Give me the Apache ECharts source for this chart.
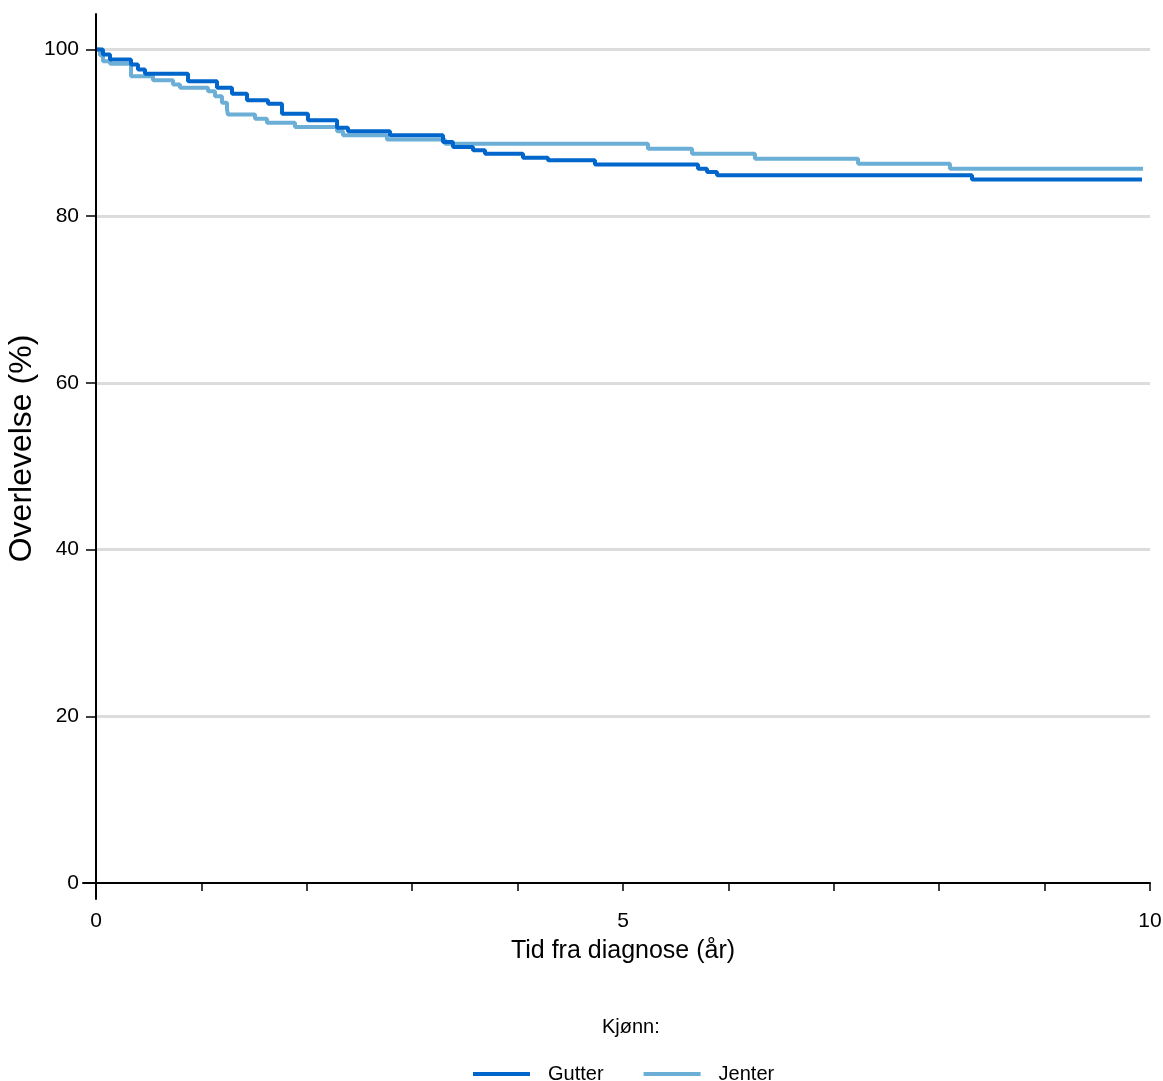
<!DOCTYPE html>
<html>
<head>
<meta charset="utf-8">
<script src="https://cdn.jsdelivr.net/npm/echarts@6/dist/echarts.min.js"></script>
<style>
  html, body { margin: 0; padding: 0; background: #fff; }
  #chart { width: 1163px; height: 1081px; }
</style>
</head>
<body>
<div id="chart"></div>
<script>
// Kaplan-Meier steg: tid (år) og overlevelse (%)
const gutterTid = [0, 0.066, 0.133, 0.332, 0.398, 0.465, 0.873, 1.148, 1.290, 1.433, 1.632, 1.765, 2.011,
  2.287, 2.391, 2.789, 3.292, 3.387, 3.577, 3.691, 4.051, 4.288, 4.734, 5.712, 5.797, 5.892, 8.311, 9.924]
const gutterVerdi = [100, 99.4, 98.8, 98.2, 97.6, 97.1, 96.2, 95.4, 94.7, 93.9, 93.5, 92.3, 91.5,
  90.6, 90.2, 89.7, 88.9, 88.3, 87.9, 87.5, 87.0, 86.7, 86.2, 85.7, 85.3, 84.9, 84.4, 84.4]

const jenterTid = [0, 0.038, 0.066, 0.133, 0.332, 0.541, 0.731, 0.797, 1.063, 1.129, 1.195, 1.243, 1.252,
  1.509, 1.622, 1.888, 2.287, 2.343, 2.761, 3.311, 5.237, 5.655, 6.252, 7.230, 8.102, 9.934]
const jenterVerdi = [100, 99.3, 98.6, 98.3, 96.8, 96.3, 95.8, 95.4, 95.0, 94.4, 93.6, 92.8, 92.2,
  91.7, 91.2, 90.7, 90.2, 89.7, 89.2, 88.7, 88.1, 87.5, 86.9, 86.3, 85.7, 85.7]

const xTicks = [0, 5, 10]
const yTicks = [0, 20, 40, 60, 80, 100]

const font = "'Liberation Sans', Arial, sans-serif"
const black = '#000'

const chart = echarts.init(document.getElementById('chart'))

const toPairs = (tid, verdi) => tid.map((t, i) => [t, verdi[i]])

// bare en aksestrek, ingen merker
const bareStrek = (gridIndex, extra) => Object.assign({
  gridIndex,
  type: 'value',
  min: 0,
  max: 1,
  axisLine: { show: false },
  axisTick: { show: false },
  axisLabel: { show: false },
  splitLine: { show: false }
}, extra)

chart.setOption({
  animation: false,
  title: {
    text: 'Kjønn:',
    left: 597,
    top: 1012,
    textStyle: { fontFamily: font, fontSize: 20, fontWeight: 'normal', color: '#000' }
  },
  legend: {
    left: 468,
    top: 1059,
    itemWidth: 57,
    itemHeight: 4,
    itemGap: 40,
    icon: 'rect',
    textStyle: { fontFamily: font, fontSize: 20, color: '#000', padding: [0, 0, 0, 13] },
    data: ['Gutter', 'Jenter']
  },
  grid: [
    // dataområde
    { left: 96, right: 13, top: 49.5, bottom: 198, outerBoundsMode: 'none', containLabel: false },
    // x-aksestrek, litt forlenget til venstre
    { left: 83, right: 13, top: 14, bottom: 198, outerBoundsMode: 'none', containLabel: false },
    // y-aksestrek, forlenget opp og ned
    { left: 96, right: 13, top: 14, bottom: 182, outerBoundsMode: 'none', containLabel: false }
  ],
  xAxis: [
    {
      gridIndex: 0,
      type: 'value',
      min: 0,
      max: 10,
      interval: 1,
      axisLine: { show: false },
      axisTick: { show: true, length: 8, lineStyle: { color: black, width: 1.5 } },
      axisLabel: {
        margin: 28,
        fontFamily: font,
        fontSize: 21,
        color: black,
        formatter: v => (xTicks.includes(v) ? String(v) : '')
      },
      splitLine: { show: false },
      name: 'Tid fra diagnose (år)',
      nameLocation: 'middle',
      nameGap: 56,
      nameTextStyle: { fontFamily: font, fontSize: 25, color: black }
    },
    bareStrek(1, { axisLine: { show: true, onZero: false, lineStyle: { color: black, width: 2 } }, z: 5 }),
    bareStrek(2, {})
  ],
  yAxis: [
    {
      gridIndex: 0,
      type: 'value',
      min: 0,
      max: 100,
      interval: 20,
      axisLine: { show: false },
      axisTick: { show: true, length: 10, lineStyle: { color: black, width: 1.5 } },
      axisLabel: {
        margin: 17,
        fontFamily: font,
        fontSize: 21,
        color: black,
        formatter: v => (yTicks.includes(v) ? String(v) : '')
      },
      splitLine: { show: true, showMinLine: false, lineStyle: { color: '#dcdcdc', width: 3 } }
    },
    bareStrek(1, {}),
    bareStrek(2, {
      axisLine: { show: true, onZero: false, lineStyle: { color: black, width: 2 } },
      name: 'Overlevelse (%)',
      nameLocation: 'middle',
      nameGap: 58,
      nameTextStyle: { fontFamily: font, fontSize: 32, color: black, padding: [0, 0, 0, 16] },
      z: 5
    })
  ],
  series: [
    {
      name: 'Gutter',
      type: 'line',
      xAxisIndex: 0,
      yAxisIndex: 0,
      step: 'end',
      showSymbol: false,
      clip: false,
      color: '#0066cc',
      lineStyle: { width: 4, color: '#0066cc' },
      data: toPairs(gutterTid, gutterVerdi),
      z: 3
    },
    {
      name: 'Jenter',
      type: 'line',
      xAxisIndex: 0,
      yAxisIndex: 0,
      step: 'end',
      showSymbol: false,
      clip: false,
      color: '#6baed6',
      lineStyle: { width: 4, color: '#6baed6' },
      data: toPairs(jenterTid, jenterVerdi),
      z: 2
    }
  ]
})
</script>
</body>
</html>
